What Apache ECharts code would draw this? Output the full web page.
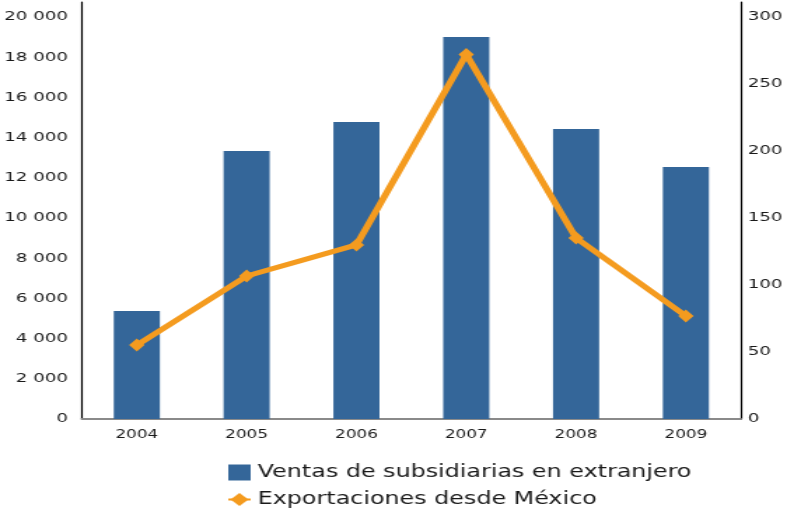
<!DOCTYPE html>
<html>
<head>
<meta charset="utf-8">
<script src="https://cdn.jsdelivr.net/npm/echarts@6/dist/echarts.min.js"></script>
<style>
  html, body { margin: 0; padding: 0; background: #fff; overflow: hidden; }
  /* Chart is laid out narrow and widened, giving the broad lettering of the original figure */
  #chart { width: 562px; height: 508px; transform: scaleX(1.40036); transform-origin: 0 0; }
</style>
</head>
<body>
<div id="chart"></div>
<script>
const years = ['2004', '2005', '2006', '2007', '2008', '2009'];
const ventasSubsidiarias = [5370, 13330, 14780, 19000, 14430, 12540];
const exportacionesMexico = [55.2, 106.7, 129.9, 272, 135.1, 76.9];
const seriesNames = ['Ventas de subsidiarias en extranjero', 'Exportaciones desde México'];

const FONT = 'DejaVu Sans';
const TEXT = '#1a1a1a';
const BLUE = '#346699';
const ORANGE = '#F49B1F';

const chart = echarts.init(document.getElementById('chart'), null, { renderer: 'canvas' });

const thousands = v => String(v).replace(/\B(?=(\d{3})+(?!\d))/g, ' ');

chart.setOption({
  animation: false,
  textStyle: { fontFamily: FONT },
  grid: { left: 58, right: 33, top: 2, bottom: 89, containLabel: false },
  legend: {
    orient: 'vertical',
    left: 162,
    top: 464,
    padding: 0,
    itemWidth: 16,
    itemHeight: 16,
    itemGap: 10,
    textStyle: { fontFamily: FONT, fontSize: 17, color: TEXT },
    data: [
      { name: seriesNames[0], icon: 'rect' },
      { name: seriesNames[1] }
    ]
  },
  xAxis: {
    type: 'category',
    data: years,
    axisLine: { show: true, lineStyle: { color: '#8a8a8a', width: 2 } },
    axisTick: { show: false },
    axisLabel: { fontFamily: FONT, fontSize: 12, color: TEXT, margin: 10 }
  },
  yAxis: [
    {
      type: 'value',
      min: 0,
      max: 20746,
      interval: 2000,
      axisLine: { show: true, lineStyle: { color: '#000', width: 1.2 } },
      axisTick: { show: false },
      splitLine: { show: false },
      axisLabel: {
        fontFamily: FONT, fontSize: 13, color: TEXT, margin: 10,
        showMaxLabel: false,
        formatter: v => thousands(v)
      }
    },
    {
      type: 'value',
      min: 0,
      max: 311.2,
      interval: 50,
      position: 'right',
      axisLine: { show: true, lineStyle: { color: '#000', width: 1.2 } },
      axisTick: { show: false },
      splitLine: { show: false },
      axisLabel: {
        fontFamily: FONT, fontSize: 13, color: TEXT, margin: 5,
        showMaxLabel: false
      }
    }
  ],
  series: [
    {
      name: seriesNames[0],
      type: 'bar',
      yAxisIndex: 0,
      data: ventasSubsidiarias,
      barWidth: '42%',
      itemStyle: { color: BLUE }
    },
    {
      name: seriesNames[1],
      type: 'line',
      yAxisIndex: 1,
      data: exportacionesMexico,
      symbol: 'diamond',
      symbolSize: [11, 13],
      lineStyle: { color: ORANGE, width: 5 },
      itemStyle: { color: ORANGE },
      z: 5
    }
  ]
});
</script>
</body>
</html>
